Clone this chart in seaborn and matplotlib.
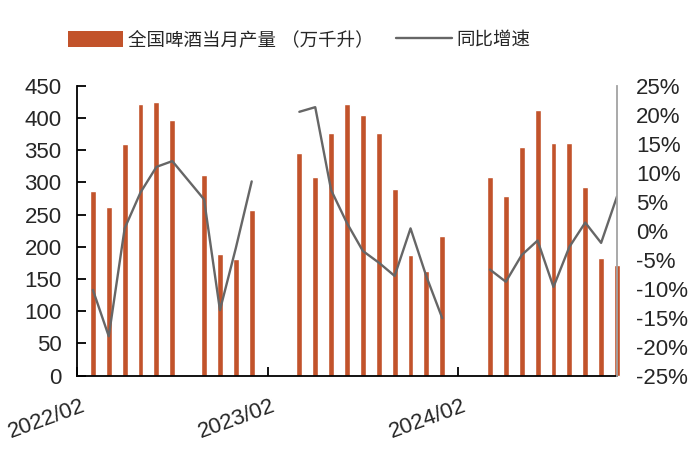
import matplotlib
matplotlib.use("Agg")
import matplotlib.pyplot as plt
import seaborn as sns
import numpy as np
import pandas as pd
from matplotlib.patches import Patch
from matplotlib.lines import Line2D
from matplotlib.ticker import FuncFormatter

# monthly categories, 2022/02 .. 2024/12 (Jan-Feb combined months left empty)
months = pd.date_range("2022-02-01", "2024-12-01", freq="MS").strftime("%Y/%m").tolist()

# 全国啤酒当月产量 (万千升)
production = [np.nan, 287, 261, 359, 422, 424, 396, np.nan, 312, 189, 181, 257,
              np.nan, np.nan, 346, 308, 377, 422, 405, 377, 289, 188, 162, 217,
              np.nan, np.nan, 309, 279, 355, 413, 361, 361, 293, 183, 172]

# 同比增速 (%)
yoy = [np.nan, -10.2, -18.2, 0.4, 6.6, 11.0, 12.0, np.nan, 5.4, -13.7, -3.0, 8.5,
       np.nan, np.nan, 20.5, 21.3, 7.0, 1.3, -3.5, -5.5, -7.8, 0.4, -7.9, -15.1,
       np.nan, np.nan, -6.7, -8.8, -4.2, -1.7, -9.7, -2.8, 1.4, -2.1, 5.9]

# line is broken between years
segment = [0] * 12 + [1] * 12 + [2] * 11

tick_labels = ["2022/02", "2023/02", "2024/02"]
legend_labels = ["全国啤酒当月产量 （万千升）", "同比增速"]

bar_color = "#C2532B"
line_color = "#666666"

df = pd.DataFrame({"month": months, "production": production,
                   "yoy": yoy, "seg": segment})
df["pos"] = np.arange(len(df))

sns.set_theme(style="white")
plt.rcParams["font.family"] = ["Liberation Sans", "Noto Sans CJK SC"]

fig = plt.figure(figsize=(7, 4.62), dpi=100)
ax = fig.add_axes([77 / 700, 1 - 375.7 / 462, 540 / 700, 290 / 462])

sns.barplot(data=df, x="month", y="production", order=months, color=bar_color,
            saturation=1, width=0.37, errorbar=None, ax=ax)
for p in ax.patches:
    p.set_clip_on(False)

ax.set_xlim(0, len(months) - 1)
ax.set_ylim(0, 450)
ax.set_yticks(range(0, 451, 50))
ax.set_xticks([months.index(t) for t in tick_labels])
ax.set_xticklabels([])
ax.set_xlabel("")
ax.set_ylabel("")
ax.tick_params(axis="y", direction="in", length=6.5, width=1.3, color="black",
               labelsize=16, pad=11, left=True)
ax.tick_params(axis="x", direction="in", length=6.5, width=1.3, color="black",
               bottom=True, labelbottom=False)
for side in ["top", "right"]:
    ax.spines[side].set_visible(False)
for side in ["left", "bottom"]:
    ax.spines[side].set_color("black")
    ax.spines[side].set_linewidth(1.3)

# rotated x labels
for lab in tick_labels:
    ax.annotate(lab, xy=(months.index(lab), 0), xycoords=("data", "axes fraction"),
                xytext=(2.5, -14), textcoords="offset points", ha="right", va="top",
                rotation=20, rotation_mode="anchor", fontsize=16,
                annotation_clip=False)

ax2 = ax.twinx()
sns.lineplot(data=df, x="pos", y="yoy", units="seg", estimator=None,
             color=line_color, linewidth=1.7, ax=ax2)
ax2.set_xlim(0, len(months) - 1)
ax2.set_ylim(-25, 25)
ax2.set_yticks(range(-25, 26, 5))
ax2.yaxis.set_major_formatter(FuncFormatter(lambda v, _: f"{int(round(v))}%"))
ax2.set_ylabel("")
ax2.set_xlabel("")
ax2.tick_params(axis="y", length=0, labelsize=16, pad=13.5)
for side in ["top", "left", "bottom"]:
    ax2.spines[side].set_visible(False)
ax2.spines["right"].set_color("#A3A3A3")
ax2.spines["right"].set_linewidth(1.3)

handles = [Patch(facecolor=bar_color, edgecolor="none"),
           Line2D([], [], color=line_color, linewidth=1.7)]
fig.legend(handles, legend_labels, loc="center left",
           bbox_to_anchor=(68 / 700, 1 - 40 / 462), ncol=2, frameon=False,
           fontsize=13.3, handlelength=3.0, handleheight=1.0,
           handletextpad=0.25, columnspacing=1.22, borderpad=0, borderaxespad=0)

fig.savefig("out.png", dpi=100)
